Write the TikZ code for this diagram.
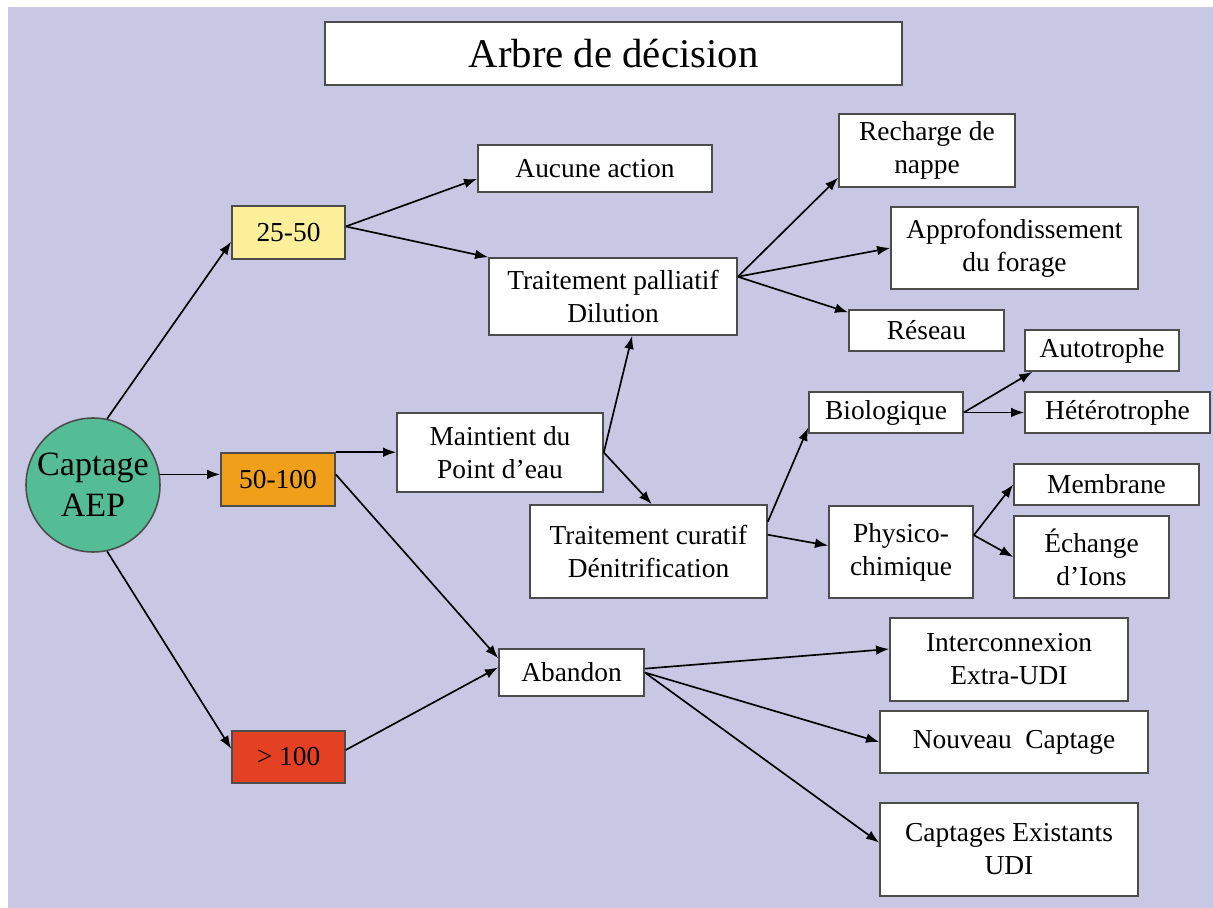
\documentclass[tikz,border=0pt]{standalone}
\usepackage{fontspec}
\setmainfont{Liberation Serif}
\usetikzlibrary{arrows.meta}
\definecolor{fondlav}{RGB}{200,200,228}
\definecolor{vertcap}{RGB}{85,189,150}
\definecolor{seuiljaune}{RGB}{251,239,153}
\definecolor{seuilorange}{RGB}{239,159,26}
\definecolor{seuilrouge}{RGB}{227,64,36}
\begin{document}
\begin{tikzpicture}[x=0.02cm, y=-0.02cm,
    boite/.style={draw=black!70, line width=0.9pt, fill=white, align=center, inner sep=2pt,
        font=\fontsize{15.6}{18.8}\selectfont},
    boxwh/.style 2 args={minimum width=#1*0.02cm, minimum height=#2*0.02cm},
    fleche/.style={-{Latex[length=7.5pt,width=5.5pt]}, line width=0.95pt}]
    \useasboundingbox (0,0) rectangle (1213,908);
    \fill[fondlav] (8,7) rectangle (1213,908);
    % titre
    \node[boite, boxwh={577}{63}, font=\fontsize{23.2}{28}\selectfont] (titre) at (613.5,53.5) {Arbre de décision};
    % racine et seuils
    \node[circle, draw=black!70, line width=0.9pt, fill=vertcap, minimum size=2.68cm, inner sep=0pt,
        align=center, font=\fontsize{19.4}{23.4}\selectfont] (cap) at (93,485) {Captage\\AEP};
    \node[boite, boxwh={113}{53}, fill=seuiljaune] (s2550) at (288.5,232.5) {25-50};
    \node[boite, boxwh={114}{53}, fill=seuilorange] (s50100) at (278,479.5) {50-100};
    \node[boite, boxwh={113}{52}, fill=seuilrouge] (s100) at (288.5,757) {\textgreater{} 100};
    % actions
    \node[boite, boxwh={234}{47}] (aucune) at (595,168.5) {Aucune action};
    \node[boite, boxwh={248}{77}] (pall) at (613,296.5) {Traitement palliatif\\Dilution};
    \node[boite, boxwh={206}{79}] (maint) at (500,452.5) {Maintient du\\Point d’eau};
    \node[boite, boxwh={237}{93}] (curatif) at (648.5,551.5) {Traitement curatif\\Dénitrification};
    \node[boite, boxwh={145}{47}] (abandon) at (571.5,672.5) {Abandon};
    % palliatif
    \node[boite, boxwh={176}{73}] (recharge) at (927,150.5) {Recharge de\\nappe};
    \node[boite, boxwh={247}{82}] (approf) at (1014.5,248) {Approfondissement\\du forage};
    \node[boite, boxwh={155}{41}] (reseau) at (926.5,330.5) {Réseau};
    % curatif
    \node[boite, boxwh={154}{41}] (bio) at (886,412.5) {Biologique};
    \node[boite, boxwh={154}{41}] (auto) at (1102,350.5) {Autotrophe};
    \node[boite, boxwh={185}{41}] (hetero) at (1117.5,412.5) {Hétérotrophe};
    \node[boite, boxwh={144}{92}] (physico) at (901,552) {Physico-\\chimique};
    \node[boite, boxwh={185}{41}] (membrane) at (1106.5,484.5) {Membrane};
    \node[boite, boxwh={155}{82}] (echange) at (1091.5,557) {Échange\\d’Ions};
    % abandon
    \node[boite, boxwh={238}{83}] (inter) at (1009,659.5) {Interconnexion\\Extra-UDI};
    \node[boite, boxwh={268}{62}] (nouveau) at (1014,742) {Nouveau\ \ Captage};
    \node[boite, boxwh={258}{93}] (captex) at (1009,849.5) {Captages Existants\\UDI};

    \draw[fleche] (cap.78) -- (s2550.189);
    \draw[fleche] (cap.9) -- (cap.9 -| s50100.west);
    \draw[fleche] (cap.-78) -- (s100.172);
    \draw[fleche] (s2550.6) -- (aucune.185);
    \draw[fleche] (s2550.6) -- (pall.north west);
    \draw[fleche] (s50100.north east) -- (s50100.north east -| maint.west);
    \draw[fleche] (s50100.5) -- (abandon.169);
    \draw[fleche] (s100.7) -- (abandon.176);
    \draw[fleche] (maint.east) -- (pall.-64);
    \draw[fleche] (maint.east) -- (curatif.86);
    \draw[fleche] (pall.9) -- (recharge.197);
    \draw[fleche] (pall.9) -- (approf.west);
    \draw[fleche] (pall.9) -- (reseau.167);
    \draw[fleche] (curatif.14) -- (bio.191);
    \draw[fleche] (curatif.8) -- (physico.175);
    \draw[fleche] (bio.east) -- (auto.197);
    \draw[fleche] (bio.east) -- (bio.east -| hetero.west);
    \draw[fleche] (physico.13) -- (membrane.west);
    \draw[fleche] (physico.13) -- (echange.west);
    \draw[fleche] (abandon.3) -- (inter.175);
    \draw[fleche] (abandon.east) -- (nouveau.west);
    \draw[fleche] (abandon.east) -- (captex.177);
\end{tikzpicture}
\end{document}
